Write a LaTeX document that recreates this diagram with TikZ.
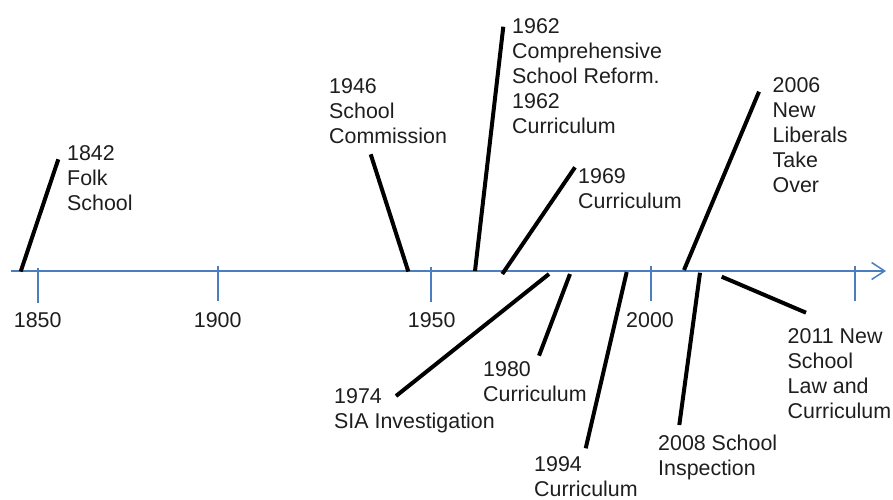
\documentclass[tikz,border=0pt]{standalone}
\usepackage{fontspec}
\setmainfont{Liberation Sans}
\usetikzlibrary{arrows.meta}
\definecolor{axisblue}{RGB}{74,126,192}
\definecolor{txt}{RGB}{30,30,30}
\begin{document}
\begin{tikzpicture}[x=1pt,y=-1pt,
  evt/.style={anchor=north west,inner sep=0pt,align=left,text=txt,
    font=\fontsize{21.4}{25}\selectfont},
  yr/.style={anchor=north,inner sep=0pt,text=txt,font=\fontsize{21.4}{25}\selectfont},
  conn/.style={line width=4pt,black},
  tickmark/.style={axisblue,line width=2pt},
  axisline/.style={axisblue,line width=1.5pt,-{Straight Barb[length=13pt,width=17pt,line width=1.5pt]}}]
\useasboundingbox (0,0) rectangle (893,499);
% axis
\coordinate (a0) at (11,271);
\coordinate (a1) at (886,271);
\draw[axisline] (a0) -- (a1);
% ticks
\coordinate (t1a) at (37.7,268); \coordinate (t1b) at (37.7,303);
\coordinate (t2a) at (217.7,265.5); \coordinate (t2b) at (217.7,300.5);
\coordinate (t3a) at (431,266.5); \coordinate (t3b) at (431,301.5);
\coordinate (t4a) at (651,265.5); \coordinate (t4b) at (651,300.5);
\coordinate (t5a) at (855,265.5); \coordinate (t5b) at (855,300.5);
\draw[tickmark] (t1a) -- (t1b);
\draw[tickmark] (t2a) -- (t2b);
\draw[tickmark] (t3a) -- (t3b);
\draw[tickmark] (t4a) -- (t4b);
\draw[tickmark] (t5a) -- (t5b);
\node[yr] (y1850) at (37.7,312.5) {1850};
\node[yr] (y1900) at (217.7,312.5) {1900};
\node[yr] (y1950) at (431.7,312) {1950};
\node[yr] (y2000) at (650,312.5) {2000};
% event labels
\node[evt] (e1842) at (67,145) {1842\\Folk\\School};
\node[evt] (e1946) at (329,78) {1946\\School\\Commission};
\node[evt] (e1962) at (512,18) {1962\\Comprehensive\\School Reform.\\1962\\Curriculum};
\node[evt] (e1969) at (578,168) {1969\\Curriculum};
\node[evt] (e1974) at (334,388) {1974\\SIA Investigation};
\node[evt] (e1980) at (483,361.5) {1980\\Curriculum};
\node[evt] (e1994) at (534,456.5) {1994\\Curriculum};
\node[evt] (e2006) at (772.5,77) {2006\\New\\Liberals\\Take\\Over};
\node[evt] (e2008) at (658,435) {2008 School\\Inspection};
\node[evt] (e2011) at (787.5,328) {2011 New\\School\\Law and\\Curriculum};
% connector ends
\coordinate (b1842) at (20.7,271.5); \coordinate (c1842) at (58.3,159.3);
\coordinate (b1946) at (408.3,271.5); \coordinate (c1946) at (370.7,154.3);
\coordinate (b1962) at (475,271); \coordinate (c1962) at (503.3,26.7);
\coordinate (b1969) at (502.3,274); \coordinate (c1969) at (575,167.3);
\coordinate (b1974) at (549,274); \coordinate (c1974) at (396,396);
\coordinate (b1980) at (570,274); \coordinate (c1980) at (539,355.7);
\coordinate (b1994) at (626.7,272); \coordinate (c1994) at (585.7,448.3);
\coordinate (b2006) at (684,270); \coordinate (c2006) at (759,91.7);
\coordinate (b2008) at (700,272.7); \coordinate (c2008) at (679.3,425);
\coordinate (b2011) at (721.7,276.7); \coordinate (c2011) at (806,312.7);
\foreach \e in {1842,1946,1962,1969,1974,1980,1994,2006,2008,2011}{
  \draw[conn] (b\e) -- (c\e);
}
\end{tikzpicture}
\end{document}
